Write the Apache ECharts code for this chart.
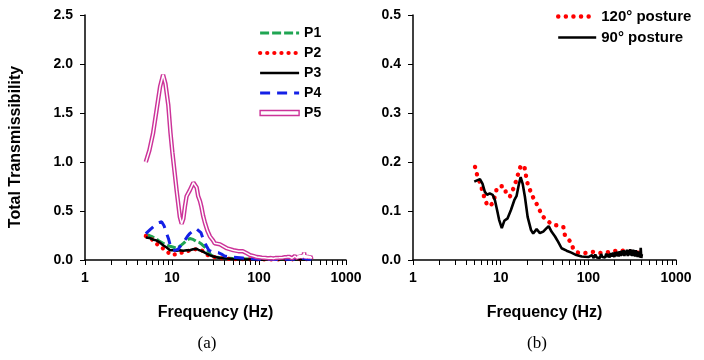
<!DOCTYPE html>
<html>
<head>
<meta charset="utf-8">
<script src="https://cdn.jsdelivr.net/npm/echarts@6/dist/echarts.min.js"></script>
<style>html,body{margin:0;padding:0;background:#fff}#c{width:704px;height:360px}</style>
</head>
<body>
<div id="c"></div>
<script>
// ---------- data (frequency Hz, transmissibility) ----------
const P1 = [[5,0.26],[5.5,0.25],[6,0.235],[6.6,0.215],[7.2,0.19],[7.9,0.17],[8.6,0.155],[9.5,0.14],[10.4,0.13],[11.3,0.12],[12.3,0.14],[13.5,0.17],[14.7,0.2],[16,0.22],[17.5,0.21],[19,0.19],[20.5,0.18],[22,0.16],[24,0.13],[26,0.09],[28,0.05],[31,0.03],[35,0.025],[40,0.02],[50,0.015],[60,0.012],[80,0.01],[100,0.008],[150,0.006],[200,0.006],[300,0.01],[330,0.03],[350,0.01],[400,0.01]];
const P2 = [[5,0.245],[5.5,0.23],[6.1,0.2],[6.6,0.17],[7.1,0.14],[7.8,0.12],[8.5,0.1],[9.2,0.07],[10.1,0.05],[11,0.06],[12.3,0.07],[13.5,0.08],[15,0.09],[16.5,0.1],[18.4,0.11],[20,0.105],[21.8,0.1],[23.5,0.08],[25.7,0.05],[28,0.035],[31,0.03],[35,0.02],[40,0.015],[50,0.01],[70,0.008],[100,0.006],[200,0.006],[300,0.008],[400,0.008]];
const P3 = [[5,0.23],[5.5,0.225],[6,0.21],[6.6,0.2],[7.2,0.18],[7.9,0.15],[8.6,0.13],[9.5,0.1],[10.4,0.1],[11.3,0.095],[12.3,0.1],[13.5,0.095],[14.7,0.1],[16,0.1],[17.5,0.11],[19.2,0.115],[20.5,0.1],[22.7,0.085],[25,0.065],[27,0.05],[30,0.035],[35.6,0.02],[42,0.015],[50,0.01],[65,0.006],[80,0.004],[100,0.003],[200,0.004],[300,0.006],[400,0.006]];
const P4 = [[5,0.27],[5.6,0.31],[6.3,0.35],[7,0.38],[7.6,0.39],[8.1,0.35],[8.6,0.28],[9.1,0.22],[9.6,0.14],[10.2,0.1],[11,0.1],[11.8,0.11],[12.9,0.16],[14,0.2],[15,0.24],[16,0.27],[17.5,0.3],[19,0.32],[20,0.32],[21.5,0.28],[22.7,0.22],[24,0.17],[25,0.14],[26.5,0.1],[28.5,0.085],[31,0.08],[34,0.075],[37,0.06],[40,0.04],[45,0.035],[50,0.03],[65,0.02],[80,0.012],[100,0.008],[150,0.006],[250,0.008],[330,0.02],[350,0.01],[400,0.008]];
const P5 = [[5,1.0],[5.5,1.12],[6.05,1.29],[6.7,1.55],[7.3,1.77],[7.9,1.89],[8.4,1.8],[9.07,1.58],[9.6,1.3],[10.1,1.1],[10.7,0.9],[11.3,0.71],[12.3,0.44],[12.9,0.37],[13.5,0.42],[14.1,0.55],[14.7,0.65],[16,0.71],[16.8,0.72],[17.6,0.79],[18.4,0.8],[19.2,0.74],[20,0.65],[21,0.6],[21.8,0.54],[22.8,0.45],[23.9,0.38],[25.5,0.3],[27.3,0.24],[29.6,0.2],[31,0.17],[35.6,0.16],[42.6,0.12],[50.6,0.1],[58,0.09],[65,0.09],[72,0.07],[79,0.05],[87,0.04],[94,0.03],
  [100,0.028],[108,0.024],[115,0.022],[122,0.02],[130,0.018],[138,0.02],[146,0.016],[154,0.02],[162,0.017],[170,0.022],[178,0.016],[186,0.024],[192,0.014],[198,0.028],[204,0.016],[210,0.03],[216,0.015],[222,0.032],[228,0.017],[234,0.035],[240,0.018],[246,0.038],[252,0.02],[258,0.04],[264,0.02],[270,0.042],[276,0.018],[282,0.045],[288,0.02],[294,0.048],[300,0.022],[306,0.05],[312,0.02],[318,0.055],[324,0.025],[330,0.075],[336,0.02],[342,0.05],[348,0.018],[354,0.048],[360,0.02],[366,0.045],[372,0.016],[378,0.042],[384,0.018],[390,0.04],[396,0.015],[402,0.03]];
const POST120 = [[5.1,0.19],[5.4,0.173],[5.8,0.158],[6.2,0.141],[6.6,0.124],[7.1,0.11],[7.6,0.112],[8.2,0.116],[8.6,0.131],[9.1,0.148],[9.8,0.15],[10.7,0.151],[11.7,0.135],[12.7,0.129],[13.9,0.145],[14.9,0.16],[15.9,0.177],[16.9,0.192],[17.8,0.193],[18.6,0.192],[19.4,0.173],[20.3,0.156],[21.6,0.143],[22.9,0.131],[25,0.119],[27.3,0.105],[29.8,0.09],[32.7,0.083],[36.4,0.076],[40.9,0.071],[45.3,0.071],[48.5,0.069],[51.9,0.067],[54,0.051],[59,0.042],[63,0.037],[67,0.024],[72,0.017],[79,0.014],[87.5,0.014],[99.5,0.015],[118,0.017],[142,0.014],[170,0.016],[192,0.019],[220,0.018],[248,0.019],[285,0.018],[325,0.017],[386,0.014]];
const POST90 = [[5,0.16],[5.3,0.162],[5.8,0.165],[6.2,0.156],[6.6,0.139],[7.0,0.133],[7.5,0.136],[8.1,0.133],[8.6,0.122],[9.1,0.102],[9.6,0.082],[10.3,0.065],[11.0,0.08],[12.0,0.085],[13.1,0.102],[14.3,0.122],[15.2,0.131],[16.2,0.156],[16.9,0.169],[17.8,0.156],[18.9,0.129],[20.3,0.088],[22.2,0.061],[23.5,0.054],[25.7,0.063],[28,0.055],[30.6,0.058],[33.4,0.065],[35.3,0.069],[38,0.058],[41.7,0.048],[45.3,0.037],[49.5,0.024],[56.5,0.019],[64,0.015],[73,0.01],[84,0.007],
  [100,0.006],[105,0.003],[110,0.01],[115,0.004],[120,0.011],[125,0.005],[130,0.009],[135,0.004],[140,0.012],[145,0.006],[150,0.01],[155,0.005],[160,0.013],[165,0.006],[170,0.012],[175,0.005],[180,0.014],[186,0.007],[192,0.015],[198,0.006],[204,0.016],[210,0.008],[216,0.017],[222,0.007],[228,0.018],[234,0.008],[240,0.019],[246,0.009],[252,0.02],[258,0.008],[264,0.019],[270,0.01],[276,0.021],[282,0.008],[288,0.02],[294,0.01],[300,0.022],[306,0.009],[312,0.02],[318,0.008],[324,0.021],[330,0.01],[336,0.019],[342,0.007],[348,0.02],[354,0.009],[360,0.018],[366,0.006],[372,0.017],[378,0.008],[384,0.016],[390,0.005],[396,0.025],[402,0.004],[408,0.012]];
const legendA = ['P1','P2','P3','P4','P5'];
const legendB = ['120° posture','90° posture'];

const FONT = '"Liberation Sans", Arial, sans-serif';
const chart = echarts.init(document.getElementById('c'), null, {renderer:'canvas'});

function xAxisFor(gi){
  return {
    type:'log', logBase:10, min:1, max:1000, gridIndex:gi,
    name:'Frequency (Hz)', nameLocation:'middle', nameGap:45,
    nameTextStyle:{fontFamily:FONT, fontWeight:'bold', fontSize:16, color:'#000'},
    axisLine:{lineStyle:{color:'#000', width:1.5}},
    axisTick:{show:true, inside:false, length:5, lineStyle:{color:'#000', width:1}},
    minorTick:{show:true, splitNumber:9, length:5, lineStyle:{color:'#000', width:1}},
    axisLabel:{fontFamily:FONT, fontWeight:'bold', fontSize:14, color:'#000', margin:11,
      formatter:v=>String(Math.round(v))},
    splitLine:{show:false},
    minorSplitLine:{show:false}
  };
}
function yAxisFor(gi, max, interval){
  return {
    type:'value', min:0, max:max, interval:interval, gridIndex:gi,
    axisLine:{show:true, lineStyle:{color:'#000', width:1.5}},
    axisTick:{show:true, length:5, lineStyle:{color:'#000', width:1}},
    axisLabel:{fontFamily:FONT, fontWeight:'bold', fontSize:14, color:'#000', margin:12,
      formatter:v=>v.toFixed(1)},
    splitLine:{show:false}
  };
}
function lineS(name, data, gi, color, width, type, cap, z){
  return {
    type:'line', name:name, data:data, xAxisIndex:gi, yAxisIndex:gi,
    symbol:'none', showSymbol:false, smooth:false, z:z||2,
    lineStyle:{color:color, width:width, type:type, cap:cap||'butt'},
    itemStyle:{color:color}
  };
}

const option = {
  animation:false,
  backgroundColor:'#fff',
  grid:[
    {left:85, top:15, width:261, height:245},
    {left:413, top:15, width:263, height:245}
  ],
  xAxis:[xAxisFor(0), xAxisFor(1)],
  yAxis:[yAxisFor(0,2.5,0.5), yAxisFor(1,0.5,0.1)],
  legend:[
    {
      data:legendA.map(n=> n==='P5'
        ? {name:n, icon:'path://M0,0H40V5H0Z', itemStyle:{color:'#fff', borderColor:'#cc3399', borderWidth:1.4, opacity:1}}
        : {name:n}),
      orient:'vertical', left:258, top:26, padding:0, itemWidth:39, itemHeight:14, itemGap:6,
      itemStyle:{opacity:0},
      lineStyle:{width:'inherit'},
      textStyle:{fontFamily:FONT, fontWeight:'bold', fontSize:14, color:'#000'},
      selectedMode:false
    },
    {
      data:legendB,
      orient:'vertical', left:556, top:9, padding:0, itemWidth:38, itemHeight:15, itemGap:6,
      itemStyle:{opacity:0},
      lineStyle:{width:'inherit'},
      textStyle:{fontFamily:FONT, fontWeight:'bold', fontSize:15, color:'#000'},
      selectedMode:false
    }
  ],
  graphic:[
    {type:'text', x:16, y:147, rotation:Math.PI/2,
      style:{text:'Total Transmissibility', font:'bold 16px "Liberation Sans", Arial, sans-serif', fill:'#000', align:'center', verticalAlign:'middle'}},
    {type:'text', x:207, y:344,
      style:{text:'(a)', font:'17px "Liberation Serif", "Times New Roman", serif', fill:'#000', align:'center', verticalAlign:'middle'}},
    {type:'text', x:537, y:344,
      style:{text:'(b)', font:'17px "Liberation Serif", "Times New Roman", serif', fill:'#000', align:'center', verticalAlign:'middle'}}
  ],
  series:[
    lineS('P1', P1, 0, '#1fa552', 3, [9,3], 'butt', 3),
    lineS('P2', P2, 0, '#ff0000', 4.2, [0.1,7], 'round', 3),
    lineS('P3', P3, 0, '#000000', 2.5, 'solid', 'butt', 4),
    lineS('P4', P4, 0, '#1420e6', 3, [10,7], 'butt', 4),
    lineS('P5', P5, 0, '#cc3399', 4.4, 'solid', 'butt', 5),
    lineS('P5 inner', P5, 0, '#ffffff', 1.5, 'solid', 'butt', 6),
    lineS('120° posture', POST120, 1, '#ff0000', 4.4, [0.1,7.5], 'round', 3),
    lineS('90° posture', POST90, 1, '#000000', 2.6, 'solid', 'butt', 4)
  ]
};
chart.setOption(option);
</script>
</body>
</html>
